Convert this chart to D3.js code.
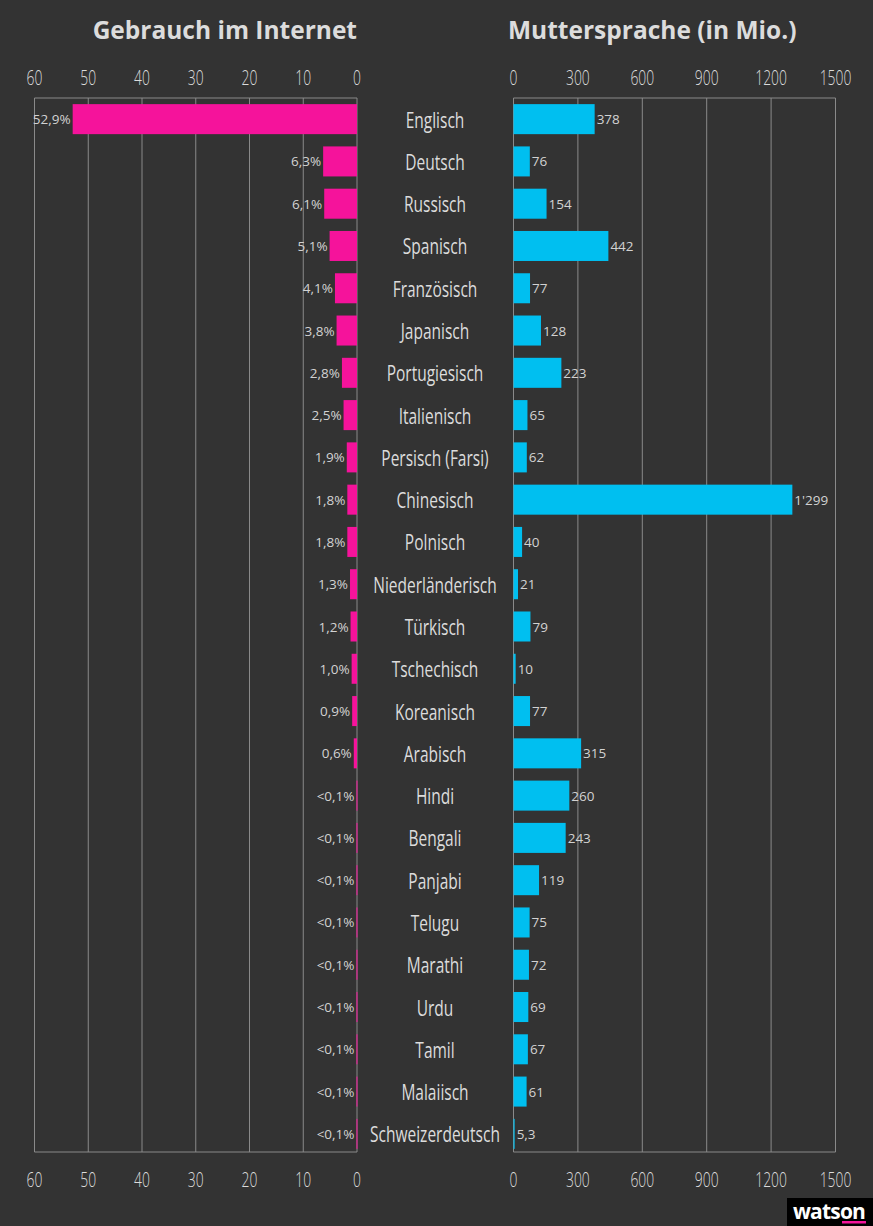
<!DOCTYPE html>
<html><head><meta charset="utf-8">
<script src="https://cdn.jsdelivr.net/npm/d3@7"></script>
<style>
html,body{margin:0;padding:0;background:#333333;}
svg{display:block;}
</style></head>
<body>
<script>
const categories = ["Englisch","Deutsch","Russisch","Spanisch","Französisch","Japanisch","Portugiesisch","Italienisch","Persisch (Farsi)","Chinesisch","Polnisch","Niederländerisch","Türkisch","Tschechisch","Koreanisch","Arabisch","Hindi","Bengali","Panjabi","Telugu","Marathi","Urdu","Tamil","Malaiisch","Schweizerdeutsch"];
const internetShare = [52.9,6.3,6.1,5.1,4.1,3.8,2.8,2.5,1.9,1.8,1.8,1.3,1.2,1.0,0.9,0.6,0.1,0.1,0.1,0.1,0.1,0.1,0.1,0.1,0.1];
const internetLabels = ["52,9%","6,3%","6,1%","5,1%","4,1%","3,8%","2,8%","2,5%","1,9%","1,8%","1,8%","1,3%","1,2%","1,0%","0,9%","0,6%","<0,1%","<0,1%","<0,1%","<0,1%","<0,1%","<0,1%","<0,1%","<0,1%","<0,1%"];
const nativeSpeakers = [378,76,154,442,77,128,223,65,62,1299,40,21,79,10,77,315,260,243,119,75,72,69,67,61,5.3];
const nativeLabels = ["378","76","154","442","77","128","223","65","62","1'299","40","21","79","10","77","315","260","243","119","75","72","69","67","61","5,3"];
const leftTicks = [60,50,40,30,20,10,0];
const rightTicks = [0,300,600,900,1200,1500];
const titles = ["Gebrauch im Internet","Muttersprache (in Mio.)"];

(function(){
const W = 873, H = 1226;
const svg = d3.select("body").append("svg").attr("width", W).attr("height", H);
svg.append("rect").attr("width", W).attr("height", H).attr("fill", "#333333");

const yTop = 98, yBottom = 1152;
const y = d3.scaleBand().domain(categories).range([98, 1155]).paddingInner(0.29).paddingOuter(0.145);
const xL = d3.scaleLinear().domain([0, 60]).range([357, 34.5]);
const xR = d3.scaleLinear().domain([0, 1500]).range([513.5, 835.5]);

const gridCol = "#8a8a8a";
const textCol = "#dcdcdc";
const pink = "#f5139b";
const cyan = "#00bff0";
const cond = 0.66;
const condCat = 0.705;

function grid(scale, ticks) {
  const g = svg.append("g");
  g.selectAll("line").data(ticks).join("line")
    .attr("x1", d => scale(d)).attr("x2", d => scale(d))
    .attr("y1", yTop).attr("y2", yBottom)
    .attr("stroke", gridCol).attr("stroke-width", 1);
  const ext = d3.extent(ticks.map(scale));
  g.append("line").attr("x1", ext[0]).attr("x2", ext[1]).attr("y1", yTop).attr("y2", yTop).attr("stroke", gridCol);
  g.append("line").attr("x1", ext[0]).attr("x2", ext[1]).attr("y1", yBottom).attr("y2", yBottom).attr("stroke", gridCol);
}
grid(xL, leftTicks);
grid(xR, rightTicks);

function tickLabels(scale, ticks, yPos) {
  svg.append("g").selectAll("text").data(ticks).join("text")
    .attr("transform", d => `translate(${scale(d)},${yPos}) scale(${cond},1)`)
    .attr("text-anchor", "middle")
    .attr("font-family", "'Open Sans', sans-serif")
    .attr("font-weight", 300)
    .attr("font-size", 21)
    .attr("fill", textCol)
    .text(d => d);
}
tickLabels(xL, leftTicks, 85);
tickLabels(xR, rightTicks, 85);
tickLabels(xL, leftTicks, 1187);
tickLabels(xR, rightTicks, 1187);

svg.append("text").attr("x", 357).attr("y", 39).attr("text-anchor", "end")
  .attr("font-family", "'Open Sans', sans-serif").attr("font-weight", 700).attr("font-size", 24.5)
  .attr("fill", textCol).text(titles[0]);
svg.append("text").attr("x", 508).attr("y", 39).attr("text-anchor", "start")
  .attr("font-family", "'Open Sans', sans-serif").attr("font-weight", 700).attr("font-size", 24.5)
  .attr("fill", textCol).text(titles[1]);

const rowsL = categories.map((c, i) => ({c, v: internetShare[i], l: internetLabels[i]}));
svg.append("g").selectAll("rect").data(rowsL).join("rect")
  .attr("x", d => xL(d.v)).attr("width", d => Math.max(1, xL(0) - xL(d.v)))
  .attr("y", d => y(d.c)).attr("height", y.bandwidth())
  .attr("fill", pink);
svg.append("g").selectAll("text").data(rowsL).join("text")
  .attr("x", d => xL(d.v) - 2).attr("y", d => y(d.c) + y.bandwidth() / 2 + 5)
  .attr("text-anchor", "end")
  .attr("font-family", "'Open Sans', sans-serif").attr("font-size", 13.5)
  .attr("fill", "#d2d2d2").text(d => d.l);

const rowsR = categories.map((c, i) => ({c, v: nativeSpeakers[i], l: nativeLabels[i]}));
svg.append("g").selectAll("rect").data(rowsR).join("rect")
  .attr("x", xR(0)).attr("width", d => xR(d.v) - xR(0))
  .attr("y", d => y(d.c)).attr("height", y.bandwidth())
  .attr("fill", cyan);
svg.append("g").selectAll("text").data(rowsR).join("text")
  .attr("x", d => xR(d.v) + 2).attr("y", d => y(d.c) + y.bandwidth() / 2 + 5)
  .attr("text-anchor", "start")
  .attr("font-family", "'Open Sans', sans-serif").attr("font-size", 13.5)
  .attr("fill", "#d2d2d2").text(d => d.l);

svg.append("g").selectAll("text").data(categories).join("text")
  .attr("transform", d => `translate(435,${y(d) + y.bandwidth() / 2 + 8.5}) scale(${condCat},1)`)
  .attr("text-anchor", "middle")
  .attr("font-family", "'Open Sans', sans-serif").attr("font-size", 22)
  .attr("fill", textCol).text(d => d);

const logo = svg.append("g");
logo.append("rect").attr("x", 787).attr("y", 1198).attr("width", 86).attr("height", 28).attr("fill", "#000");
logo.append("text").attr("x", 829).attr("y", 1219).attr("text-anchor", "middle")
  .attr("font-family", "'Open Sans', sans-serif").attr("font-weight", 700).attr("font-size", 21)
  .attr("letter-spacing", -0.8)
  .attr("fill", "#fff").text("watson");
logo.append("rect").attr("x", 842).attr("y", 1221).attr("width", 24).attr("height", 2.5).attr("fill", pink);
})();
</script>
</body></html>
